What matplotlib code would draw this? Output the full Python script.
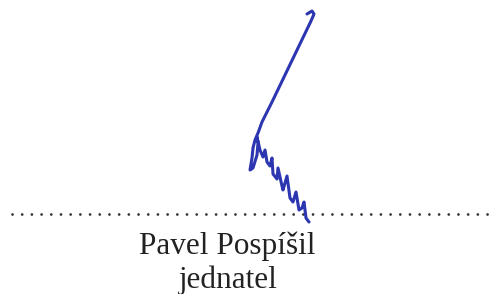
import matplotlib.pyplot as plt

# signature stroke (pixel coordinates, y downwards)
sig_x = [307, 312, 314, 311, 298, 285, 272, 262, 258,
         255, 253, 252, 250, 253, 257, 258, 257,
         260, 263, 265, 267, 270, 272, 273, 277, 278, 282, 283, 287,
         290, 293, 296, 299, 302, 304, 306, 309]
sig_y = [14, 11, 14, 21, 48, 75, 102, 122, 133,
         140, 148, 158, 170, 168, 155, 143, 137,
         150, 157, 150, 162, 166, 158, 174, 179, 168, 186, 190, 176,
         198, 202, 192, 210, 208, 202, 218, 222]

line_x = [12, 493]
line_y = 214

name = "Pavel Pospíšil"
role = "jednatel"

fig = plt.figure(figsize=(4.93, 2.94), dpi=100)
ax = fig.add_axes([0, 0, 1, 1])
ax.set_xlim(0, 493)
ax.set_ylim(294, 0)
ax.axis("off")

ax.plot(line_x, [line_y, line_y], color="#333333", lw=2.0,
        linestyle=(0, (0.01, 3.48)), dash_capstyle="round")
ax.plot(sig_x, sig_y, color="#2b36b0", lw=2.2, solid_capstyle="round",
        solid_joinstyle="round")

ax.text(227, 254, name, family="Liberation Serif", fontsize=22.5,
        ha="center", va="baseline", color="#222222")
ax.text(228, 288, role, family="Liberation Serif", fontsize=22.5,
        ha="center", va="baseline", color="#222222")

fig.savefig("out.png", dpi=100)
